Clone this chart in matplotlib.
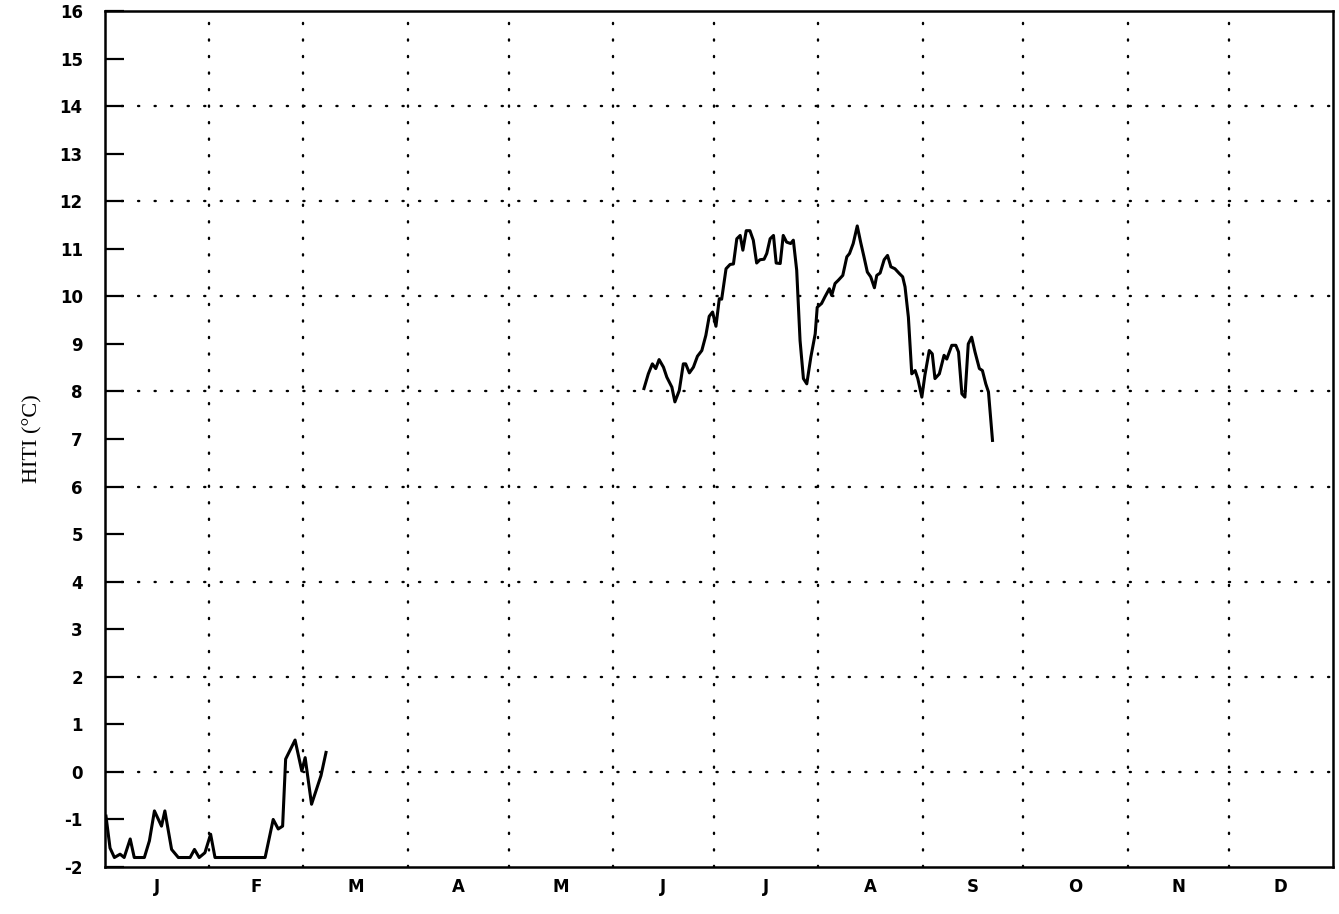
import matplotlib
matplotlib.use('Agg')
import matplotlib.pyplot as plt

plt.rcParams['axes.unicode_minus'] = False

# day of year / temperature, winter segment
winter_days = [0.3, 1.5, 2.8, 4.5, 5.7, 7.5, 8.7, 11.7, 13.2, 14.7, 16.8, 17.8, 19.8,
               21.8, 25.3, 26.6, 28.0, 29.7, 31.4, 32.7, 47.6, 50.0, 51.5, 52.8, 53.7,
               56.5, 58.5, 59.5, 61.4, 64.2, 65.7]
winter_temp = [-0.93, -1.6, -1.8, -1.73, -1.8, -1.41, -1.8, -1.8, -1.45, -0.82, -1.14,
               -0.82, -1.63, -1.8, -1.8, -1.63, -1.8, -1.7, -1.31, -1.8, -1.8, -1.0,
               -1.2, -1.14, 0.27, 0.67, 0.02, 0.3, -0.68, -0.08, 0.41]

# summer segment
summer_days = [160.2, 161.5, 162.7, 163.7, 164.7, 166.0, 167.0, 168.5, 169.4, 170.7,
               171.9, 172.6, 173.7, 174.9, 176.1, 177.4, 178.6, 179.6, 180.6, 181.6,
               182.6, 183.3, 184.6, 185.8, 186.8, 187.8, 188.8, 189.6, 190.6, 191.7,
               192.7, 193.7, 194.7, 195.9, 196.7, 197.7, 198.7, 199.5, 200.7, 201.6,
               202.6, 203.8, 204.6, 205.6, 206.6, 207.6, 208.6, 209.8, 211.1, 211.7,
               213.0, 214.0, 215.3, 216.0, 217.0, 218.0, 219.3, 220.5, 221.3, 222.4,
               223.6, 224.6, 225.6, 226.6, 227.6, 228.7, 229.4, 230.4, 231.6, 232.6,
               233.6, 234.8, 236.1, 237.1, 237.8, 238.8, 239.8, 240.8, 241.6, 242.8,
               243.7, 245.0, 245.9, 246.7, 248.0, 249.4, 250.2, 251.7, 252.9, 253.7,
               254.7, 255.6, 256.6, 257.6, 258.6, 259.9, 260.8, 261.8, 262.6, 263.8]
summer_temp = [8.06, 8.37, 8.58, 8.48, 8.67, 8.51, 8.3, 8.09, 7.78, 8.02,
               8.58, 8.58, 8.39, 8.51, 8.74, 8.86, 9.18, 9.58, 9.67, 9.37,
               9.95, 9.94, 10.58, 10.67, 10.68, 11.21, 11.28, 10.97, 11.38, 11.38,
               11.18, 10.7, 10.77, 10.78, 10.9, 11.21, 11.28, 10.7, 10.69, 11.28,
               11.14, 11.11, 11.18, 10.55, 9.07, 8.27, 8.16, 8.72, 9.21, 9.77,
               9.85, 9.99, 10.16, 10.02, 10.27, 10.34, 10.44, 10.83, 10.9, 11.11,
               11.48, 11.14, 10.83, 10.51, 10.41, 10.18, 10.44, 10.49, 10.77, 10.86,
               10.62, 10.58, 10.48, 10.41, 10.2, 9.56, 8.37, 8.44, 8.27, 7.88,
               8.34, 8.86, 8.79, 8.27, 8.37, 8.76, 8.68, 8.97, 8.97, 8.83,
               7.95, 7.88, 9.0, 9.14, 8.83, 8.48, 8.44, 8.16, 7.99, 6.97]

month_starts = [0, 31, 59, 90, 120, 151, 181, 212, 243, 273, 304, 334, 365]
month_labels = ['J', 'F', 'M', 'A', 'M', 'J', 'J', 'A', 'S', 'O', 'N', 'D']

fig = plt.figure(figsize=(13.39, 9.14), dpi=100)
ax = fig.add_axes([0.0784, 0.0514, 0.9171, 0.9366])

dots = (0, (0.5, 6.5))
for d in month_starts[1:-1]:
    ax.axvline(d, color='k', lw=1.7, linestyle=dots, dash_capstyle='round', zorder=1)
for v in range(0, 16, 2):
    ax.axhline(v, color='k', lw=1.7, linestyle=dots, dash_capstyle='round', zorder=1)

ax.plot(winter_days, winter_temp, color='k', lw=2.2, zorder=3)
ax.plot(summer_days, summer_temp, color='k', lw=2.2, zorder=3)

ax.set_xlim(0, 365)
ax.set_ylim(-2, 16)
ax.set_yticks(range(-2, 17))
ax.tick_params(axis='y', direction='in', length=14, width=1.6, pad=16,
               labelsize=12, right=False)
for lab in ax.get_yticklabels():
    lab.set_fontweight('bold')

ax.set_xticks(month_starts)
ax.set_xticklabels([])
ax.tick_params(axis='x', which='major', length=0)
centers = [(a + b) / 2 for a, b in zip(month_starts[:-1], month_starts[1:])]
ax.set_xticks(centers, minor=True)
ax.set_xticklabels(month_labels, minor=True, fontsize=12, fontweight='bold')
ax.tick_params(axis='x', which='minor', length=0, pad=8)

for s in ax.spines.values():
    s.set_linewidth(1.8)

ax.set_ylabel('HITI (°C)', family='Liberation Serif', fontsize=16, labelpad=12)

fig.savefig('out.png', dpi=100)
